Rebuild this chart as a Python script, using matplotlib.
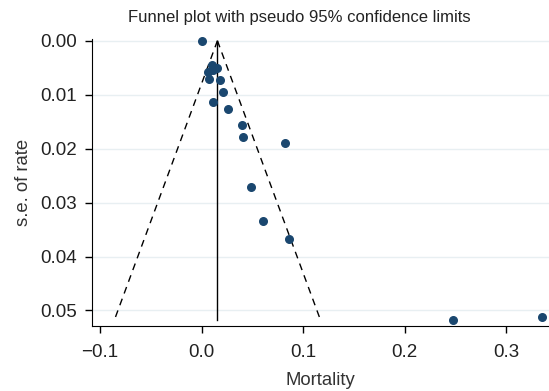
import matplotlib
matplotlib.use("Agg")
import matplotlib.pyplot as plt
import numpy as np

# study estimates
rate = [0.000, 0.0102, 0.015, 0.0062, 0.011, 0.0072, 0.0184, 0.021, 0.0111, 0.0259,
        0.0394, 0.0411, 0.0825, 0.0483, 0.0601, 0.0864, 0.247, 0.3347]
se = [0.0000, 0.0045, 0.0050, 0.0058, 0.0054, 0.0071, 0.0073, 0.0095, 0.0114, 0.0127,
      0.0157, 0.0178, 0.0190, 0.0272, 0.0334, 0.0367, 0.0518, 0.0513]
pooled = 0.0155
se_max = 0.0517

xticks = [-0.1, 0.0, 0.1, 0.2, 0.3]
yticks = [0.00, 0.01, 0.02, 0.03, 0.04, 0.05]

plt.rcParams['font.family'] = ['Liberation Sans', 'DejaVu Sans']

fig = plt.figure(figsize=(5.49, 3.91), dpi=100)
ax = fig.add_axes([0.1676, 0.166, 0.8324, 0.734])

for t in yticks:
    ax.axhline(t, color='#e8eff2', lw=1, zorder=0)

ax.plot([pooled, pooled], [0, se_max], color='black', lw=1)
ax.plot([pooled, pooled - 1.96 * se_max], [0, se_max], color='black', lw=1, ls=(0, (5, 4)))
ax.plot([pooled, pooled + 1.96 * se_max], [0, se_max], color='black', lw=1, ls=(0, (5, 4)))
ax.scatter(rate, se, s=30, color='#1a476f', zorder=3, clip_on=False)

ax.set_xlim(-0.108, 0.342)
ax.set_ylim(0.0529, -0.0003)
ax.set_xticks(xticks)
ax.set_xticklabels(['\u22120.1', '0.0', '0.1', '0.2', '0.3'])
ax.set_yticks(yticks)
ax.set_yticklabels(['%.2f' % t for t in yticks])
ax.tick_params(labelsize=13.5, length=5, width=1, color='black', labelcolor='#222222')
ax.tick_params(axis='x', pad=8)
ax.tick_params(axis='y', pad=6)
ax.spines['top'].set_visible(False)
ax.spines['right'].set_visible(False)

ax.set_xlabel('Mortality', fontsize=13.3, color='#333333', labelpad=8)
ax.set_ylabel('s.e. of rate', fontsize=13.3, color='#333333', labelpad=6)
ax.set_title('Funnel plot with pseudo 95% confidence limits', fontsize=12,
             color='#222222', x=0.453, pad=12)

fig.savefig('out.png', dpi=100)
